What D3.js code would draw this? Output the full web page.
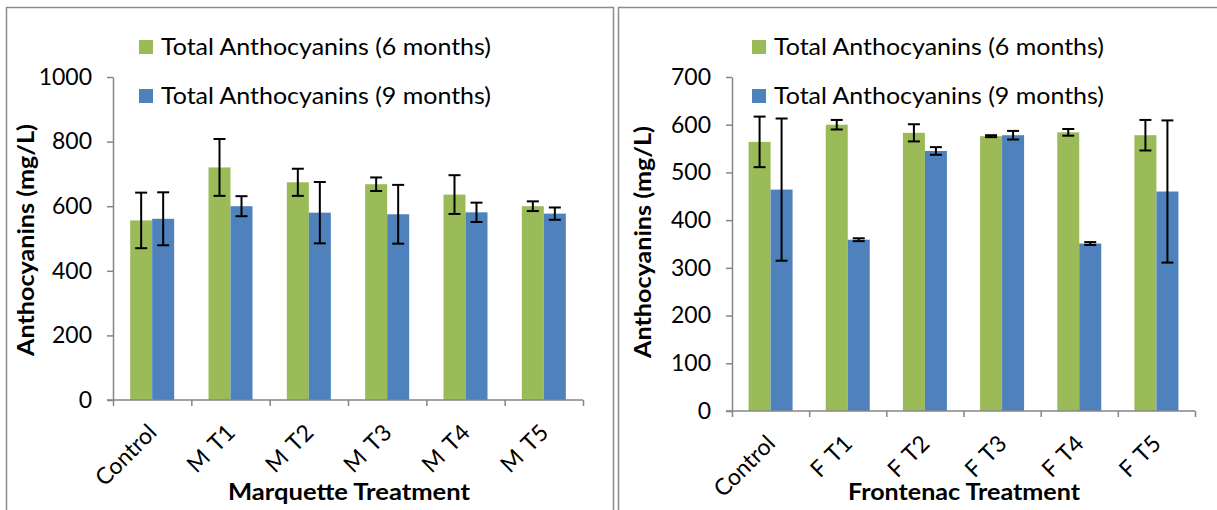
<!DOCTYPE html>
<html>
<head>
<meta charset="utf-8">
<script src="https://cdn.jsdelivr.net/npm/d3@7"></script>
<style>
  html, body { margin: 0; padding: 0; background: #fff; }
  svg { display: block; }
  text { font-family: Lato, "Open Sans", sans-serif; fill: #000; }
</style>
</head>
<body>
<svg id="chart" width="1217" height="510"></svg>
<script>
// ---------- data ----------
const seriesNames = ["Total Anthocyanins (6 months)", "Total Anthocyanins (9 months)"];

const marqCategories = ["Control", "M T1", "M T2", "M T3", "M T4", "M T5"];
const marqSix      = [556, 720, 674, 668, 636, 600];
const marqSixErr   = [86, 88, 42, 21, 60, 15];
const marqNine     = [561, 600, 580, 575, 581, 577];
const marqNineErr  = [82, 31, 95, 91, 30, 19];
const marqTicks    = [0, 200, 400, 600, 800, 1000];
const marqTitle    = "Marquette Treatment";

const frontCategories = ["Control", "F T1", "F T2", "F T3", "F T4", "F T5"];
const frontSix      = [564, 600, 583, 576, 584, 578];
const frontSixErr   = [53, 10, 18, 2, 7, 32];
const frontNine     = [464, 359, 545, 578, 351, 460];
const frontNineErr  = [149, 3, 8, 9, 3, 149];
const frontTicks    = [0, 100, 200, 300, 400, 500, 600, 700];
const frontTitle    = "Frontenac Treatment";

const yTitle = "Anthocyanins (mg/L)";

// ---------- styling ----------
const colors = ["#9BBB59", "#4F81BD"];
const axisColor = "#868686";

const svg = d3.select("#chart");

// panel borders
svg.append("rect").attr("x", 6.5).attr("y", 7.5).attr("width", 607).attr("height", 520)
  .attr("fill", "none").attr("stroke", "#8c8c8c").attr("stroke-width", 1.5);
svg.append("rect").attr("x", 618.5).attr("y", 7.5).attr("width", 620).attr("height", 520)
  .attr("fill", "none").attr("stroke", "#8c8c8c").attr("stroke-width", 1.5);

function drawChart(cfg) {
  const g = svg.append("g");
  const n = cfg.categories.length;
  const x = d3.scaleBand().domain(cfg.categories).range([cfg.x0, cfg.x1]).padding(0);
  const step = x.bandwidth();
  const barW = 22;
  const xs = d3.scaleBand().domain([0, 1]).range([step / 2 - barW, step / 2 + barW]).padding(0);
  const y = d3.scaleLinear().domain([0, cfg.yMax]).range([cfg.y0, cfg.y1]);

  const data = cfg.categories.map((c, i) => ({
    c,
    vals: [
      { s: 0, v: cfg.six[i], e: cfg.sixErr[i] },
      { s: 1, v: cfg.nine[i], e: cfg.nineErr[i] }
    ]
  }));

  // bars
  const groups = g.selectAll("g.cat").data(data).join("g").attr("class", "cat")
    .attr("transform", d => `translate(${x(d.c)},0)`);
  groups.selectAll("rect").data(d => d.vals).join("rect")
    .attr("x", d => xs(d.s))
    .attr("width", xs.bandwidth())
    .attr("y", d => y(d.v))
    .attr("height", d => y(0) - y(d.v))
    .attr("fill", d => colors[d.s]);

  // error bars
  const eb = groups.selectAll("g.eb").data(d => d.vals).join("g").attr("class", "eb")
    .attr("stroke", "#000").attr("stroke-width", 2);
  const cx = d => xs(d.s) + xs.bandwidth() / 2;
  eb.append("line")
    .attr("x1", cx).attr("x2", cx)
    .attr("y1", d => y(d.v + d.e)).attr("y2", d => y(d.v - d.e));
  eb.append("line")
    .attr("x1", d => cx(d) - 6).attr("x2", d => cx(d) + 6)
    .attr("y1", d => y(d.v + d.e)).attr("y2", d => y(d.v + d.e));
  eb.append("line")
    .attr("x1", d => cx(d) - 6).attr("x2", d => cx(d) + 6)
    .attr("y1", d => y(d.v - d.e)).attr("y2", d => y(d.v - d.e));

  // y axis
  const ya = g.append("g").attr("transform", `translate(${cfg.x0},0)`)
    .call(d3.axisLeft(y).tickValues(cfg.ticks).tickFormat(d3.format("d"))
      .tickSize(6).tickSizeOuter(0).tickPadding(15));
  ya.select(".domain").attr("stroke", axisColor).attr("stroke-width", 1.5);
  ya.selectAll(".tick line").attr("stroke", axisColor).attr("stroke-width", 1.5);
  ya.selectAll(".tick text").attr("font-size", 23).attr("font-family", "Lato, sans-serif").attr("fill", "#000");

  // x axis (boundary ticks)
  const xi = d3.scaleLinear().domain([0, n]).range([cfg.x0, cfg.x1]);
  const xa = g.append("g").attr("transform", `translate(0,${cfg.y0})`)
    .call(d3.axisBottom(xi).tickValues(d3.range(n + 1)).tickFormat("").tickSize(6).tickSizeOuter(0));
  xa.select(".domain").attr("stroke", axisColor).attr("stroke-width", 1.5)
    .attr("d", `M${cfg.x0 - 6},0H${cfg.x1}`);
  xa.selectAll(".tick line").attr("stroke", axisColor).attr("stroke-width", 1.5);

  // x category labels
  g.selectAll("text.cl").data(cfg.categories).join("text").attr("class", "cl")
    .attr("transform", d => `translate(${x(d) + step / 2 + 6},${cfg.y0 + 34}) rotate(-45)`)
    .attr("text-anchor", "end")
    .attr("font-size", 23)
    .attr("word-spacing", 3)
    .text(d => d);

  // x title
  g.append("text")
    .attr("x", cfg.xtX).attr("y", 500)
    .attr("font-size", 22).attr("font-weight", "bold")
    .attr("textLength", cfg.xtLen).attr("lengthAdjust", "spacingAndGlyphs")
    .text(cfg.xTitle);

  // y title
  g.append("text")
    .attr("transform", `translate(${cfg.ytX},${cfg.ytY}) rotate(-90)`)
    .attr("text-anchor", "middle")
    .attr("font-size", 22).attr("font-weight", "bold")
    .attr("textLength", 232).attr("lengthAdjust", "spacingAndGlyphs")
    .text(yTitle);

  // legend
  const lg = g.append("g").selectAll("g").data(seriesNames).join("g")
    .attr("transform", (d, i) => `translate(${cfg.legX},${55 + i * 49})`);
  lg.append("rect").attr("x", 0).attr("y", -15).attr("width", 14).attr("height", 14)
    .attr("fill", (d, i) => colors[i]);
  lg.append("text").attr("x", 22).attr("y", 0).attr("font-size", 23)
    .attr("textLength", 330).attr("lengthAdjust", "spacingAndGlyphs")
    .text(d => d);
}

drawChart({
  categories: marqCategories, six: marqSix, sixErr: marqSixErr, nine: marqNine, nineErr: marqNineErr,
  ticks: marqTicks, yMax: 1000, x0: 113, x1: 583, y0: 400, y1: 77,
  xTitle: marqTitle, xtX: 228, xtLen: 242, ytX: 34, ytY: 240, legX: 139
});

drawChart({
  categories: frontCategories, six: frontSix, sixErr: frontSixErr, nine: frontNine, nineErr: frontNineErr,
  ticks: frontTicks, yMax: 700, x0: 732, x1: 1195, y0: 411, y1: 77,
  xTitle: frontTitle, xtX: 848, xtLen: 232, ytX: 651, ytY: 242, legX: 752
});
</script>
</body>
</html>
